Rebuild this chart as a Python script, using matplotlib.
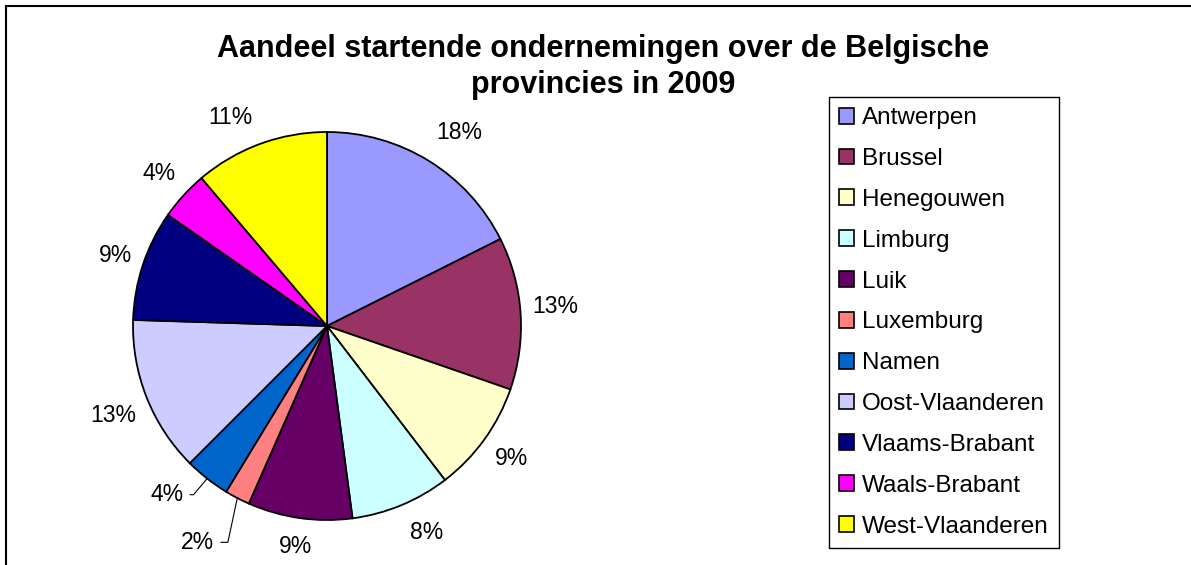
import matplotlib.pyplot as plt
import numpy as np
from matplotlib.patches import Patch, Rectangle

plt.rcParams["font.family"] = ["Liberation Sans", "DejaVu Sans"]

# gegevens (aandeel in %)
provincies = [
    "Antwerpen", "Brussel", "Henegouwen", "Limburg", "Luik", "Luxemburg",
    "Namen", "Oost-Vlaanderen", "Vlaams-Brabant", "Waals-Brabant", "West-Vlaanderen",
]
aandeel = [17.6, 12.7, 9.3, 8.3, 8.7, 2.1, 3.8, 13.0, 9.2, 4.1, 11.2]
kleuren = [
    "#9999FF", "#993366", "#FFFFCC", "#CCFFFF", "#660066", "#FF8080",
    "#0066CC", "#CCCCFF", "#000080", "#FF00FF", "#FFFF00",
]
titel = ["Aandeel startende ondernemingen over de Belgische", "provincies in 2009"]

W, H = 1191, 565
fig = plt.figure(figsize=(W / 100, H / 100), dpi=100)

# kader rond de grafiek
fig.patches.append(Rectangle((6 / W, -0.1), 1.2, 1 - 6 / H + 0.1,
                             transform=fig.transFigure, fill=False,
                             edgecolor="black", linewidth=1.5))

# taart: middelpunt en straal in pixels
cx, cy, r = 327, H - 326, 194
ax = fig.add_axes([(cx - 1.5 * r) / W, (cy - 1.5 * r) / H, 3 * r / W, 3 * r / H])
wedges, _ = ax.pie(aandeel, colors=kleuren, startangle=90, counterclock=False,
                   wedgeprops=dict(edgecolor="black", linewidth=1.3))
ax.set_xlim(-1.5, 1.5)
ax.set_ylim(-1.5, 1.5)
ax.axis("off")

# percentages rond de taart (afstand t.o.v. straal, hoekverschuiving in graden)
afstand = [1.21, 1.18, 1.17, 1.185, 1.15, 1.30, 1.20, 1.195, 1.15, 1.168, 1.186]
verschuif = [-2.7, 1, 0, 3.3, 0, -3.4, -5.4, 1, 0, 0, 4.7]
for i, w in enumerate(wedges):
    mid = np.deg2rad((w.theta1 + w.theta2) / 2)
    hoek = mid + np.deg2rad(verschuif[i])
    tx, ty = afstand[i] * np.cos(hoek), afstand[i] * np.sin(hoek)
    tekst = f"{aandeel[i]:.0f}%"
    if provincies[i] in ("Luxemburg", "Namen"):
        hoekB = 78 if provincies[i] == "Luxemburg" else 50
        ax.annotate(tekst, xy=(np.cos(mid), np.sin(mid)), xytext=(tx, ty),
                    ha="center", va="center", fontsize=16.5,
                    arrowprops=dict(arrowstyle="-", color="black", lw=0.8,
                                    shrinkA=3, shrinkB=0,
                                    connectionstyle=f"angle,angleA=0,angleB={hoekB},rad=0"))
    else:
        ax.text(tx, ty, tekst, ha="center", va="center", fontsize=16.5)

fig.text(603 / W, 1 - 57 / H, titel[0], ha="center", va="baseline",
         fontsize=22, fontweight="bold")
fig.text(603 / W, 1 - 93 / H, titel[1], ha="center", va="baseline",
         fontsize=22, fontweight="bold")

handles = [Patch(facecolor=c, edgecolor="black", linewidth=1.2) for c in kleuren]
leg = fig.legend(handles, provincies, loc="upper left",
                 bbox_to_anchor=(829 / W, 1 - 97 / H), bbox_transform=fig.transFigure,
                 borderaxespad=0, fancybox=False, edgecolor="black", framealpha=1,
                 fontsize=17.5, handlelength=0.62, handleheight=0.62,
                 handletextpad=0.33, labelspacing=0.775, borderpad=0.42)
leg.get_frame().set_linewidth(1.0)

fig.savefig("out.png", dpi=100)
